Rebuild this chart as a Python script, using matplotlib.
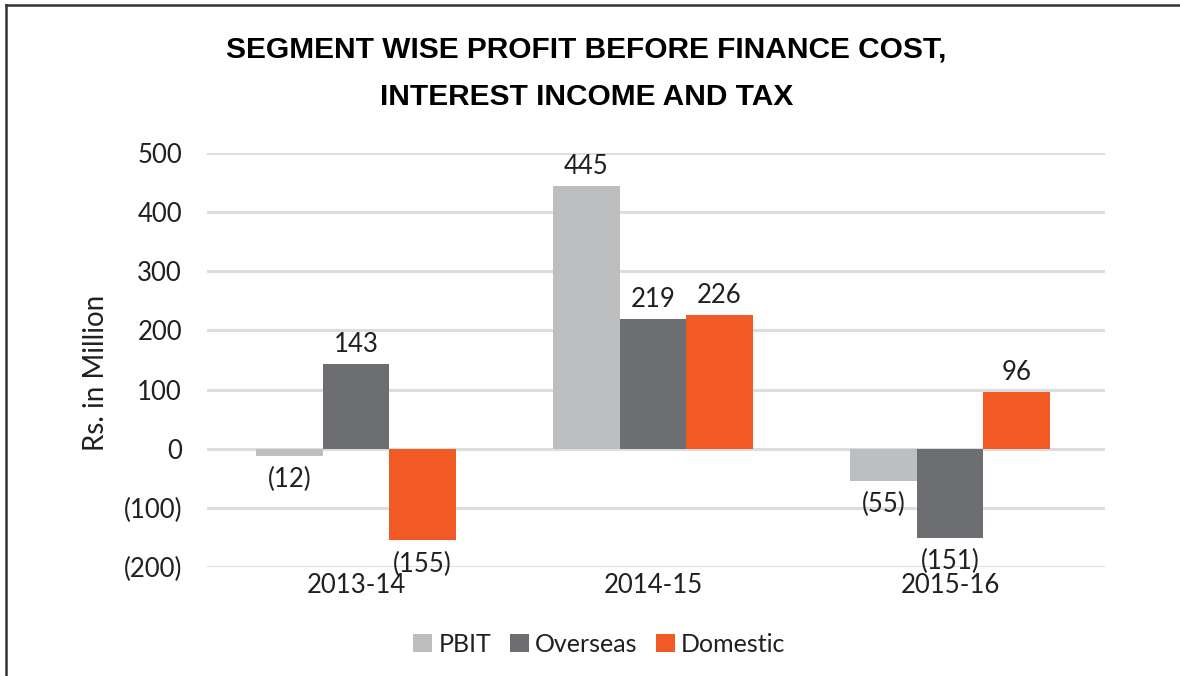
import matplotlib.pyplot as plt
from matplotlib.lines import Line2D
from matplotlib.patches import Patch
import numpy as np

# Chart data (Rs. in Million)
years = ["2013-14", "2014-15", "2015-16"]
pbit = [-12, 445, -55]
overseas = [143, 219, -151]
domestic = [-155, 226, 96]
y_ticks = [-200, -100, 0, 100, 200, 300, 400, 500]

series = [
    ("PBIT", pbit, "#BCBEC0"),
    ("Overseas", overseas, "#6D6E71"),
    ("Domestic", domestic, "#F15A24"),
]

TEXT = "#231F20"
GRID = "#DCDDDE"
plt.rcParams["font.family"] = ["Lato", "DejaVu Sans"]


def fmt(v):
    # accounting style: negatives in parentheses
    return f"({abs(v):,.0f})" if v < 0 else f"{v:,.0f}"


fig = plt.figure(figsize=(11.8, 6.76), dpi=100)
ax = fig.add_axes([207 / 1180, 1 - 567 / 676, (1105 - 207) / 1180, (567 - 153) / 676])

x = np.arange(len(years))
w = 0.224
for i, (name, vals, col) in enumerate(series):
    pos = x + (i - 1) * w
    bars = ax.bar(pos, vals, width=w, color=col, zorder=2)
    for b, v in zip(bars, vals):
        if v >= 0:
            ax.annotate(fmt(v), (b.get_x() + w / 2, v), xytext=(0, 5),
                        textcoords="offset points", ha="center", va="bottom",
                        fontsize=18.5, color=TEXT)
        else:
            ax.annotate(fmt(v), (b.get_x() + w / 2, v), xytext=(0, -8),
                        textcoords="offset points", ha="center", va="top",
                        fontsize=18.5, color=TEXT)

ax.set_xlim(-0.502, 2.522)
ax.set_ylim(-200, 500)
ax.set_yticks(y_ticks)
ax.set_yticklabels([fmt(t) for t in y_ticks])
ax.set_xticks(x)
ax.set_xticklabels(years)
ax.tick_params(axis="both", length=0, labelsize=18.5, colors=TEXT)
ax.tick_params(axis="y", pad=18)
ax.tick_params(axis="x", pad=4)
for s in ax.spines.values():
    s.set_visible(False)
ax.set_axisbelow(True)
ax.yaxis.grid(True, color=GRID, linewidth=2.2)
ax.set_ylabel("Rs. in Million", fontsize=20, color=TEXT)
ax.yaxis.set_label_coords(-98 / 898, 0.47)

# title
tfont = ["Liberation Sans", "DejaVu Sans"]
fig.text(0.497, 1 - 49 / 676, "SEGMENT WISE PROFIT BEFORE FINANCE COST,", ha="center",
         va="center", fontsize=21.5, fontweight="bold", family=tfont, color="#000000")
fig.text(0.497, 1 - 97 / 676, "INTEREST INCOME AND TAX", ha="center",
         va="center", fontsize=21.5, fontweight="bold", family=tfont, color="#000000")

handles = [Patch(facecolor=c, label=n) for n, _, c in series]
fig.legend(handles=handles, loc="center", bbox_to_anchor=(0.508, 1 - 644 / 676), ncol=3,
           frameon=False, fontsize=18, handlelength=0.75, handleheight=0.75,
           handletextpad=0.25, columnspacing=0.75, labelcolor=TEXT)

# frame lines (top and left only visible)
fig.add_artist(Line2D([6 / 1180, 6 / 1180], [0, 1 - 5 / 676], transform=fig.transFigure,
                      color="#333333", linewidth=1.8))
fig.add_artist(Line2D([6 / 1180, 1], [1 - 5 / 676, 1 - 5 / 676], transform=fig.transFigure,
                      color="#333333", linewidth=1.8))

fig.savefig("out.png", dpi=100)
